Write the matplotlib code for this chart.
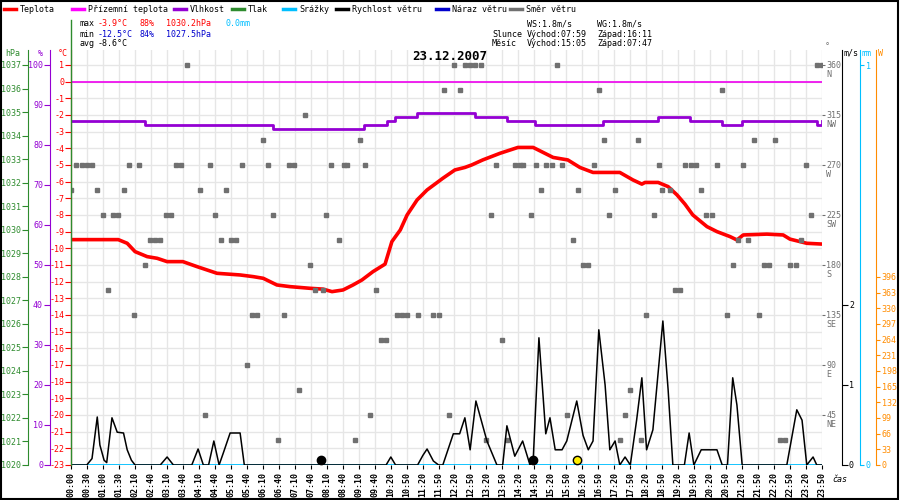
import numpy as np
import matplotlib
matplotlib.use('Agg')
import matplotlib.pyplot as plt
from matplotlib.lines import Line2D
from matplotlib.patches import Rectangle
from matplotlib.transforms import blended_transform_factory

plt.rcParams['font.family'] = ['DejaVu Sans Mono']

# --- data (minutes from midnight) ---
temp_t = [0, 90, 107, 122, 145, 164, 183, 213, 240, 259, 278, 322, 347, 366, 392, 417, 455, 480, 497,
          518, 537, 554, 575, 598, 611, 627, 640, 659, 678, 708, 731, 750, 763, 784, 817, 851, 880, 899,
          918, 946, 969, 994, 1045, 1070, 1087, 1093, 1118, 1137, 1154, 1169, 1184, 1211, 1230, 1255,
          1268, 1280, 1325, 1356, 1369, 1401, 1432]
temp_v = [-9.48, -9.48, -9.7, -10.2, -10.5, -10.6, -10.8, -10.8, -11.1, -11.3, -11.5, -11.6, -11.7, -11.8,
          -12.2, -12.3, -12.4, -12.45, -12.6, -12.5, -12.2, -11.9, -11.4, -10.95, -9.6, -8.9, -8.0, -7.1,
          -6.5, -5.8, -5.3, -5.15, -5.0, -4.7, -4.3, -3.95, -3.95, -4.25, -4.55, -4.7, -5.15, -5.45, -5.45,
          -5.9, -6.15, -6.05, -6.05, -6.3, -6.8, -7.35, -8.0, -8.7, -9.0, -9.3, -9.5, -9.2, -9.15, -9.2,
          -9.45, -9.7, -9.75]

hum_t = [0, 131, 141, 373, 385, 546, 558, 585, 601, 617, 649, 659, 760, 769, 823, 830, 874, 883, 1003,
         1013, 1108, 1118, 1169, 1179, 1230, 1240, 1268, 1278, 1411, 1420, 1430]
hum_v = [86, 86, 85, 85, 84, 84, 85, 85, 86, 87, 87, 88, 88, 87, 87, 86, 86, 85, 85,
         86, 86, 87, 87, 86, 86, 85, 85, 86, 86, 85, 86]

wind_t = [0, 30, 40, 50, 55, 63, 68, 78, 88, 100, 107, 115, 122, 170, 183, 195, 230, 242, 252, 262, 272,
          282, 290, 303, 322, 330, 600, 609, 618, 660, 670, 678, 690, 700, 708, 728, 740, 750, 760, 771,
          792, 811, 822, 830, 845, 860, 874, 880, 891, 904, 912, 922, 935, 944, 963, 975, 985, 994, 1005,
          1017, 1026, 1036, 1045, 1055, 1065, 1077, 1087, 1096, 1108, 1127, 1137, 1146, 1168, 1177, 1186,
          1200, 1211, 1230, 1240, 1250, 1260, 1268, 1278, 1363, 1382, 1392, 1401, 1413, 1420, 1430]
wind_v = [0, 0, 0.08, 0.6, 0.25, 0.06, 0.03, 0.59, 0.41, 0.4, 0.19, 0.06, 0, 0, 0.1, 0, 0, 0.2, 0, 0,
          0.3, 0, 0.15, 0.4, 0.4, 0, 0, 0.1, 0, 0, 0.12, 0.2, 0.05, 0, 0, 0.39, 0.39, 0.59, 0.19, 0.8,
          0.3, 0, 0, 0.49, 0.11, 0.3, 0, 0.05, 1.59, 0.39, 0.59, 0.19, 0.19, 0.3, 0.8, 0.37, 0.19, 0.3,
          1.69, 1.0, 0.19, 0.3, 0, 0.1, 0, 0.56, 1.09, 0.19, 0.44, 1.8, 0.94, 0, 0, 0.4, 0, 0.19, 0.19,
          0.19, 0, 0, 1.09, 0.75, 0, 0, 0.69, 0.56, 0, 0.1, 0, 0]

dir_t = [0, 10, 20, 30, 40, 50, 60, 70, 80, 90, 100, 110, 120, 130, 140, 150, 160, 170, 180, 190, 200,
         210, 220, 245, 255, 265, 275, 285, 295, 305, 315, 325, 335, 345, 355, 365, 375, 385, 395, 405,
         415, 425, 435, 445, 455, 465, 480, 485, 495, 510, 520, 525, 540, 550, 560, 570, 580, 590, 600,
         620, 630, 640, 660, 690, 700, 710, 720, 730, 740, 750, 760, 770, 780, 790, 800, 810, 820, 830,
         845, 855, 860, 875, 885, 895, 905, 915, 925, 935, 945, 955, 965, 975, 985, 995, 1005, 1015,
         1025, 1035, 1045, 1055, 1065, 1080, 1085, 1095, 1110, 1120, 1125, 1140, 1150, 1160, 1170, 1180,
         1190, 1200, 1210, 1220, 1230, 1240, 1250, 1260, 1270, 1280, 1290, 1300, 1310, 1320, 1330, 1340,
         1350, 1360, 1370, 1380, 1390, 1400, 1410, 1420, 1430]
dir_v = [247.5, 270, 270, 270, 270, 247.5, 225, 157.5, 225, 225, 247.5, 270, 135, 270, 180, 202.5, 202.5,
         202.5, 225, 225, 270, 270, 360, 247.5, 45, 270, 225, 202.5, 247.5, 202.5, 202.5, 270, 90, 135,
         135, 292.5, 270, 225, 22.5, 135, 270, 270, 67.5, 315, 180, 157.5, 157.5, 225, 270, 202.5, 270,
         270, 22.5, 292.5, 270, 45, 157.5, 112.5, 112.5, 135, 135, 135, 135, 135, 135, 337.5, 45, 360,
         337.5, 360, 360, 360, 360, 22.5, 225, 270, 112.5, 22.5, 270, 270, 270, 225, 270, 247.5, 270, 270,
         360, 270, 45, 202.5, 247.5, 180, 180, 270, 337.5, 292.5, 225, 247.5, 22.5, 45, 67.5, 292.5, 22.5,
         135, 225, 270, 247.5, 247.5, 157.5, 157.5, 270, 270, 270, 247.5, 225, 225, 270, 337.5, 135, 180,
         202.5, 270, 202.5, 292.5, 135, 180, 180, 292.5, 22.5, 22.5, 180, 180, 202.5, 270, 225, 360, 360]

dir_ticks = [45, 90, 135, 180, 225, 270, 315, 360]
dir_names = ['NE', 'E', 'SE', 'S', 'SW', 'W', 'NW', 'N']

xlabels = ['00:00', '00:30', '01:00', '01:30', '02:10', '02:40', '03:10', '03:40', '04:10', '04:40',
           '05:10', '05:40', '06:10', '06:40', '07:10', '07:40', '08:10', '08:40', '09:10', '09:40',
           '10:20', '10:50', '11:20', '11:50', '12:20', '12:50', '13:20', '13:50', '14:20', '14:50',
           '15:20', '15:50', '16:20', '16:50', '17:20', '17:50', '18:20', '18:50', '19:20', '19:50',
           '20:20', '20:50', '21:20', '21:50', '22:20', '22:50', '23:20', '23:50']
sun_moon = [(476, 0.06, 'black'), (880, 0.06, 'black'), (963, 0.06, '#ffee00')]

FS = 6
W, H = 900, 500
fig = plt.figure(figsize=(9, 5), dpi=100)
fig.patch.set_facecolor('white')
x0, x1, ybot, ytop = 71, 822, 465, 50
ax = fig.add_axes([x0 / W, (H - ybot) / H, (x1 - x0) / W, (ybot - ytop) / H])
tmin = -23
tmax = tmin + (ybot - ytop) / 16.67
ax.set_xlim(0, 1430)
ax.set_ylim(tmin, tmax)

grid_c = '#e6e6e6'
ticks = np.linspace(0, 1430, len(xlabels))
for t in ticks:
    ax.axvline(t, color=grid_c, lw=1, zorder=0)
for v in range(-23, 2):
    ax.axhline(v, color=grid_c, lw=1, zorder=0)
ax.set_xticks(ticks)
ax.set_xticklabels(xlabels, rotation=90, fontsize=FS, fontweight='bold')
ax.tick_params(axis='x', length=3, pad=2)
for s in ['top', 'right']:
    ax.spines[s].set_visible(False)
ax.spines['bottom'].set_visible(False)
ax.spines['left'].set_color('red')
ax.set_yticks(range(-23, 2))
ax.set_yticklabels([str(v) for v in range(-23, 2)], fontsize=FS, color='red')
ax.tick_params(axis='y', colors='red', length=4, pad=1)

# ground temperature at 0, temperature
ax.axhline(0, color='#ee00ee', lw=1.2, zorder=2)
ax.plot(temp_t, temp_v, color='#ff0000', lw=2.6, zorder=5)

# humidity
axh = ax.twinx()
axh.set_ylim(0, (ybot - ytop) / 4)
axh.plot(hum_t, hum_v, color='#9400d3', lw=2, drawstyle='steps-post', zorder=4)
axh.yaxis.tick_left()
axh.spines['left'].set_position(('outward', 21 * 0.72))
axh.spines['left'].set_color('#9400d3')
axh.set_yticks(range(0, 101, 10))
axh.tick_params(axis='y', colors='#9400d3', labelsize=FS, length=4, pad=1)
for s in ['top', 'right', 'bottom']:
    axh.spines[s].set_visible(False)

# pressure axis
axp = ax.twinx()
axp.set_ylim(1020, 1020 + (ybot - ytop) / 23.53)
axp.yaxis.tick_left()
axp.spines['left'].set_position(('outward', 43 * 0.72))
axp.spines['left'].set_color('#2e8b2e')
axp.set_yticks(range(1020, 1038))
axp.tick_params(axis='y', colors='#2e8b2e', labelsize=FS, length=4, pad=1)
for s in ['top', 'right', 'bottom']:
    axp.spines[s].set_visible(False)

# wind direction
axd = ax.twinx()
axd.set_ylim(0, (tmax - tmin) * 15)
axd.plot(dir_t, dir_v, 's', color='#707070', ms=3.5, zorder=3, ls='none')
axd.set_yticks(dir_ticks)
axd.set_yticklabels([str(d) for d in dir_ticks], fontsize=FS, color='#707070')
axd.tick_params(axis='y', colors='#707070', length=2, pad=1)
tr = blended_transform_factory(axd.transAxes, axd.transData)
for d, nm in zip(dir_ticks, dir_names):
    axd.text(1.0 + 4 / (x1 - x0), d - 9, nm, transform=tr, fontsize=FS, color='#707070',
             va='center', ha='left', clip_on=False)
for s in ['top', 'left', 'bottom', 'right']:
    axd.spines[s].set_visible(False)

# wind speed
axw = ax.twinx()
axw.set_ylim(0, (ybot - ytop) / 80)
axw.plot(wind_t, wind_v, color='black', lw=1.1, zorder=6)
for t, v, c in sun_moon:
    axw.plot(t, v, 'o', color=c, mec='black', ms=6, zorder=7)
axw.axhline(0, color='#00bfff', lw=2, zorder=5)
axw.spines['right'].set_position(('outward', 20 * 0.72))
axw.set_yticks([0, 1, 2])
axw.tick_params(axis='y', colors='black', labelsize=FS, length=4, pad=1)
for s in ['top', 'left', 'bottom']:
    axw.spines[s].set_visible(False)

# rain
axr = ax.twinx()
axr.set_ylim(0, (ybot - ytop) / 400)
axr.spines['right'].set_position(('outward', 38 * 0.72))
axr.spines['right'].set_color('#00bfff')
axr.set_yticks([0, 1])
axr.tick_params(axis='y', colors='#00bfff', labelsize=FS, length=3, pad=1)
for s in ['top', 'left', 'bottom']:
    axr.spines[s].set_visible(False)

# solar radiation
axs = ax.twinx()
axs.set_ylim(0, 33 * (ybot - ytop) / 15.67)
axs.spines['right'].set_position(('outward', 54 * 0.72))
axs.spines['right'].set_color('#ff8c00')
axs.set_yticks(range(0, 397, 33))
axs.tick_params(axis='y', colors='#ff8c00', labelsize=FS, length=3, pad=1)
for s in ['top', 'left', 'bottom']:
    axs.spines[s].set_visible(False)

def ftxt(x, y, s, c='black', **kw):
    fig.text(x / W, 1 - y / H, s, color=c, fontsize=FS, va='center', **kw)

# axis headers
ftxt(5, 53, 'hPa', '#2e8b2e')
ftxt(38, 53, '%', '#9400d3')
ftxt(58, 53, '°C', 'red')
ftxt(825, 47, '°', '#707070')
ftxt(843, 53, 'm/s')
ftxt(861, 53, 'mm', '#00bfff')
ftxt(878, 53, 'W', '#ff8c00')
ftxt(832, 480, 'čas', style='italic')
fig.text(450 / W, 1 - 57 / H, '23.12.2007', fontsize=9, fontweight='bold', ha='center', va='center')

# legend row
legend = [('Teplota', '#ff0000', 4), ('Přízemní teplota', '#ff00ff', 72), ('Vlhkost', '#9400d3', 174),
          ('Tlak', '#2e8b2e', 232), ('Srážky', '#00bfff', 283), ('Rychlost větru', 'black', 336),
          ('Náraz větru', '#0000cd', 436), ('Směr větru', '#707070', 510)]
for name, col, lx in legend:
    fig.add_artist(Line2D([lx / W, (lx + 12) / W], [1 - 9 / H] * 2, color=col, lw=2.5))
    ftxt(lx + 16, 9, name)

# stats
ftxt(80, 24, 'max'); ftxt(98, 24, '-3.9°C', 'red'); ftxt(139, 24, '88%', 'red')
ftxt(166, 24, '1030.2hPa', 'red'); ftxt(226, 24, '0.0mm', '#00bfff')
ftxt(80, 34, 'min'); ftxt(98, 34, '-12.5°C', '#0000cd'); ftxt(139, 34, '84%', '#0000cd')
ftxt(166, 34, '1027.5hPa', '#0000cd')
ftxt(80, 44, 'avg'); ftxt(98, 44, '-8.6°C')
ftxt(527, 24, 'WS:1.8m/s'); ftxt(597, 24, 'WG:1.8m/s')
ftxt(492, 34, 'Slunce'); ftxt(527, 34, 'Východ:07:59'); ftxt(597, 34, 'Západ:16:11')
ftxt(492, 44, 'Měsíc'); ftxt(527, 44, 'Východ:15:05'); ftxt(597, 44, 'Západ:07:47')

fig.add_artist(Line2D([x0 / W] * 2, [1 - 20 / H, 1 - ybot / H], color='#2e8b2e', lw=1))
fig.add_artist(Rectangle((0.001, 0.002), 0.997, 0.996, fill=False, ec='black', lw=1.5,
                         transform=fig.transFigure))

fig.savefig('out.png', dpi=100)
